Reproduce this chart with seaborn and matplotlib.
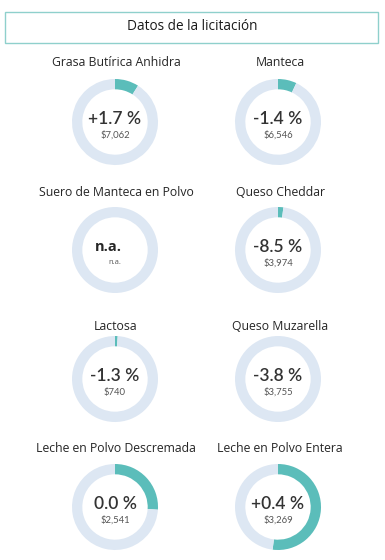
import matplotlib
matplotlib.use("Agg")
import matplotlib.pyplot as plt
import seaborn as sns
from matplotlib.patches import Rectangle

# data
products = [
    "Grasa Butírica Anhidra", "Manteca",
    "Suero de Manteca en Polvo", "Queso Cheddar",
    "Lactosa", "Queso Muzarella",
    "Leche en Polvo Descremada", "Leche en Polvo Entera",
]
changes = ["+1.7 %", "-1.4 %", "n.a.", "-8.5 %", "-1.3 %", "-3.8 %", "0.0 %", "+0.4 %"]
prices = ["$7,062", "$6,546", "n.a.", "$3,974", "$740", "$3,755", "$2,541", "$3,269"]
shares = [0.09, 0.07, 0.0, 0.02, 0.01, 0.0, 0.26, 0.52]

sns.set_theme(style="white")
plt.rcParams["font.family"] = ["Open Sans", "DejaVu Sans"]

TEAL = "#5bbdba"
LIGHT = "#dde7f3"
TEXT = "#262626"

W, H = 385, 560
fig = plt.figure(figsize=(W / 100, H / 100), dpi=100)
fig.patch.set_facecolor("white")

# title box
box = Rectangle((5 / W, 1 - 43 / H), 373 / W, 31 / H, transform=fig.transFigure,
                fill=False, edgecolor="#8fd0cc", linewidth=1.0)
fig.add_artist(box)
fig.text(192 / W, 1 - 26 / H, "Datos de la licitación", ha="center", va="center",
         fontsize=9.8, color="#1a1a1a")

col_x = [115, 278]
row_y = [122, 250, 379, 507]
title_y = [63, 192, 327, 449]
R = 43

for i, name in enumerate(products):
    r, c = divmod(i, 2)
    cx, cy = col_x[c], row_y[r]
    ax = fig.add_axes([(cx - R) / W, 1 - (cy + R) / H, 2 * R / W, 2 * R / H])
    share = shares[i]
    ax.pie([share, 1 - share], colors=[TEAL, LIGHT], startangle=90, counterclock=False,
           radius=1.0, wedgeprops=dict(width=0.24, linewidth=0))
    ax.set_xlim(-1, 1)
    ax.set_ylim(-1, 1)
    ax.set_aspect("equal")
    ax.axis("off")

    fig.text((cx + (2 if c == 1 else 1)) / W, 1 - title_y[r] / H, name, ha="center",
             va="center", fontsize=8.8, color=TEXT)
    if changes[i] == "n.a.":
        fig.text((cx - 7) / W, 1 - (cy - 3) / H, "n.a.", ha="center", va="center",
                 fontsize=10.5, fontweight="bold", color=TEXT)
        fig.text((cx + 0) / W, 1 - (cy + 13) / H, "n.a.", ha="center", va="center",
                 fontsize=5.5, color="#555555")
    else:
        fig.text(cx / W, 1 - (cy - 3) / H, changes[i], ha="center", va="center",
                 fontsize=12.5, fontweight="semibold", color="#333333",
                 family=["Lato", "DejaVu Sans"])
        fig.text(cx / W, 1 - (cy + 13) / H, prices[i], ha="center", va="center",
                 fontsize=6.8, color="#555555", family=["Lato", "DejaVu Sans"])

fig.savefig("out.png", dpi=100, facecolor="white")
